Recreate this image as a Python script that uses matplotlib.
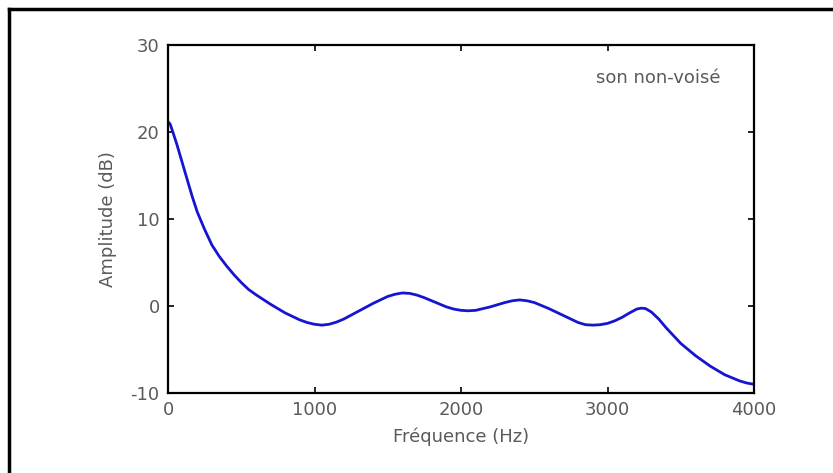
import numpy as np
import matplotlib
matplotlib.use("Agg")
import matplotlib.pyplot as plt
from matplotlib.lines import Line2D

plt.rcParams['axes.unicode_minus'] = False

#######################
#   DATA
#######################
freq = [0, 15, 35, 60, 95, 130, 165, 200, 250, 300, 350, 400, 450, 500, 550, 600,
        700, 800, 900, 950, 1000, 1050, 1100, 1150, 1200, 1300, 1400, 1500, 1550,
        1600, 1650, 1700, 1750, 1800, 1900, 1950, 2000, 2050, 2100, 2200, 2300,
        2350, 2400, 2450, 2500, 2600, 2700, 2800, 2850, 2900, 2950, 3000, 3050,
        3100, 3150, 3200, 3230, 3260, 3300, 3350, 3400, 3450, 3500, 3600, 3700,
        3800, 3900, 3950, 4000]
ampl = [21.2, 20.9, 19.9, 18.6, 16.6, 14.6, 12.6, 10.8, 8.8, 7.0, 5.7, 4.6, 3.6, 2.7, 1.9, 1.3,
        0.2, -0.8, -1.6, -1.9, -2.1, -2.2, -2.1, -1.85, -1.5, -0.6, 0.3, 1.1, 1.35,
        1.5, 1.45, 1.25, 0.95, 0.6, -0.1, -0.35, -0.5, -0.55, -0.5, -0.1, 0.4,
        0.6, 0.7, 0.6, 0.4, -0.3, -1.1, -1.9, -2.15, -2.2, -2.15, -2.0, -1.7,
        -1.3, -0.8, -0.35, -0.25, -0.3, -0.7, -1.5, -2.5, -3.4, -4.3, -5.7, -6.9,
        -7.9, -8.6, -8.85, -9.0]
x_ticks = [0, 1000, 2000, 3000, 4000]
y_ticks = [-10, 0, 10, 20, 30]

txt_col = '#5a5a5a'
fs = 13

fig = plt.figure(figsize=(8.33, 4.73), dpi=100)
ax = fig.add_axes([168/833, 1-393/473, (754-168)/833, (393-45)/473])

ax.plot(freq, ampl, color='#1515d0', lw=2.0)

ax.set_xlim(0, 4000)
ax.set_ylim(-10, 30)
ax.set_xticks(x_ticks)
ax.set_yticks(y_ticks)
ax.tick_params(direction='in', length=4, width=1.2, top=True, right=True,
               labelsize=fs, labelcolor=txt_col, pad=6)
for s in ax.spines.values():
    s.set_linewidth(1.6)
    s.set_color('black')

ax.set_xlabel('Fréquence (Hz)', fontsize=fs, color=txt_col, labelpad=6)
ax.set_ylabel('Amplitude (dB)', fontsize=fs, color=txt_col, labelpad=10)
ax.text(3770, 26.2, 'son non-voisé', ha='right', va='center', fontsize=fs, color=txt_col)

# outer frame (only top and left edges visible)
fig.add_artist(Line2D([9/833, 1], [1-9/473, 1-9/473], transform=fig.transFigure, color='black', lw=2.5))
fig.add_artist(Line2D([9/833, 9/833], [0, 1-9/473], transform=fig.transFigure, color='black', lw=2.5))

fig.savefig('out.png', dpi=100)
